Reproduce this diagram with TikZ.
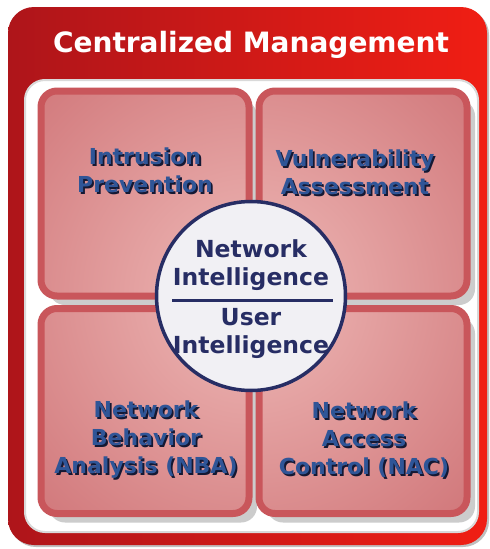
\documentclass[tikz,border=0pt]{standalone}
\usepackage{fontspec}
\setmainfont{DejaVu Sans}
\usetikzlibrary{shadows}

\definecolor{frameleft}{HTML}{AE151A}
\definecolor{frameright}{HTML}{F01E14}
\definecolor{quadedge}{HTML}{C9565B}
\definecolor{quadlight}{HTML}{EFBAB8}
\definecolor{quaddark}{HTML}{C55D62}
\definecolor{hubnavy}{HTML}{272D64}
\definecolor{hubfill}{HTML}{F1F0F4}
\definecolor{quadblue}{HTML}{2F5597}
\definecolor{quadshade}{HTML}{141833}

\tikzset{
  frame/.style={rectangle, rounded corners=26pt, minimum width=479pt, minimum height=538pt,
    left color=frameleft, right color=frameright,
    drop shadow={shadow xshift=2pt, shadow yshift=-2pt, fill=black!25, opacity=1}},
  panel/.style={rectangle, rounded corners=20pt, minimum width=453pt, minimum height=452pt,
    fill=white, draw=black!15, line width=2pt},
  quad/.style={rectangle, rounded corners=16pt, minimum width=208pt, minimum height=205pt,
    draw=quadedge, line width=7pt,
    drop shadow={shadow xshift=8pt, shadow yshift=-9pt, fill=black!20, opacity=1},
    path picture={\shade[inner color=quadlight, outer color=quaddark] (hubc) circle (430pt);}},
  quadtext/.style={align=center, text=quadblue, font=\fontsize{22}{28}\selectfont\bfseries},
  quadshadow/.style={quadtext, text=quadshade},
  hub/.style={circle, minimum size=189pt, draw=hubnavy, line width=3.5pt, fill=hubfill},
  hubtext/.style={align=center, text=hubnavy, font=\fontsize{23.5}{28}\selectfont\bfseries},
  divider/.style={draw=hubnavy, line width=3pt},
  title/.style={text=white, font=\fontsize{28}{33}\selectfont\bfseries}
}

\begin{document}
\begin{tikzpicture}[x=1pt, y=-1pt]
    \useasboundingbox (0,0) rectangle (490,549);
    \coordinate (hubc) at (251,296);

    % Frame and panel
    \node[frame] (frame) at (247.5,276) {};
    \node[title] (head) at (251,45) {Centralized Management};
    \node[panel] (panel) at (251.5,306) {};

    % Four quadrants
    \node[quad] (ips) at (145,193.5) {};
    \node[quad] (vas) at (363,193.5) {};
    \node[quad] (nba) at (145,411) {};
    \node[quad] (nac) at (363,411) {};

    % Quadrant labels
    \node[quadshadow] (ipsS) at (146.8,171.8) {Intrusion\\Prevention};
    \node[quadtext] (ipsT) at (145,170) {Intrusion\\Prevention};
    \node[quadshadow] (vasS) at (356.8,173.8) {Vulnerability\\Assessment};
    \node[quadtext] (vasT) at (355,172) {Vulnerability\\Assessment};
    \node[quadshadow] (nbaS) at (147.8,441.8) {Network\\Behavior\\Analysis (NBA)};
    \node[quadtext] (nbaT) at (146,440) {Network\\Behavior\\Analysis (NBA)};
    \node[quadshadow] (nacS) at (365.8,441.8) {Network\\Access\\Control (NAC)};
    \node[quadtext] (nacT) at (364,440) {Network\\Access\\Control (NAC)};

    % Centre circle
    \node[hub] (hub) at (hubc) {};
    \node[hubtext] (net) at (251,265) {Network\\Intelligence};
    \node[hubtext] (usr) at (251,333) {User\\Intelligence};
    \draw[divider] ([xshift=-79pt,yshift=-4pt]hub.center) -- ([xshift=82pt,yshift=-4pt]hub.center);
\end{tikzpicture}
\end{document}
